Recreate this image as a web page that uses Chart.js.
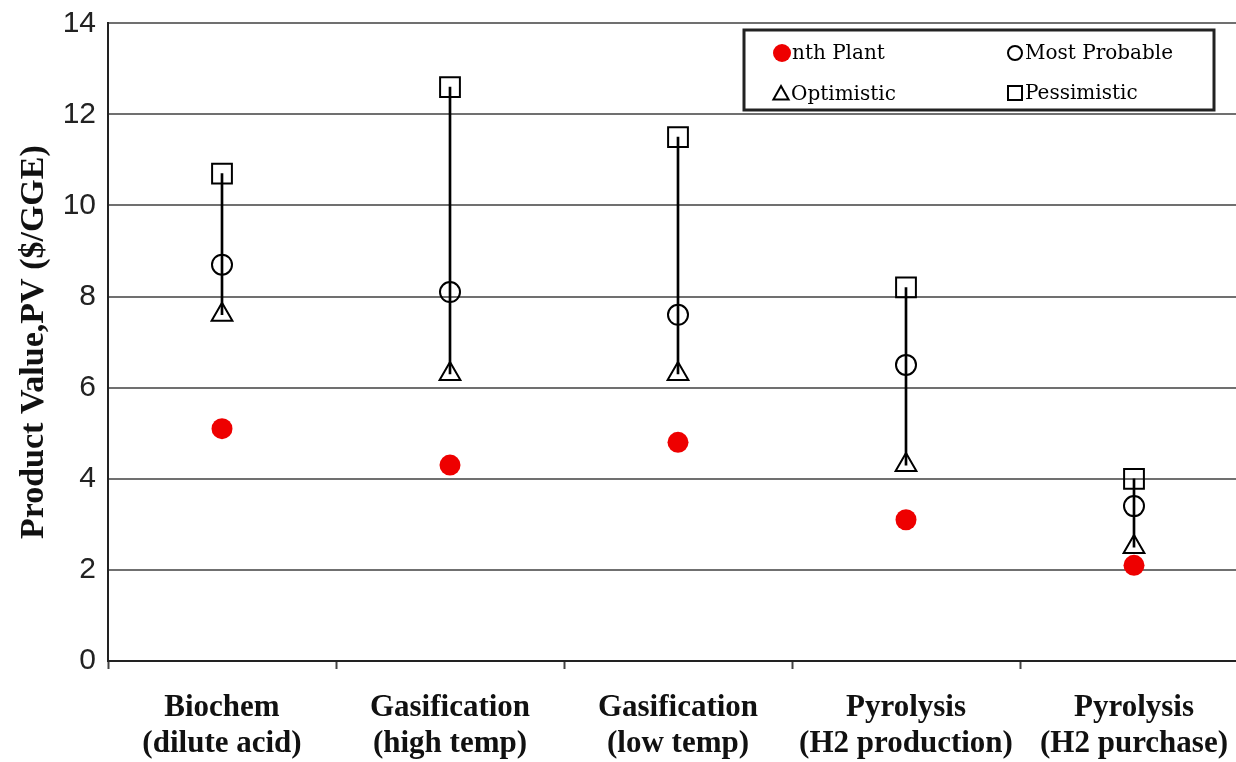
<!DOCTYPE html>
<html>
<head>
<meta charset="utf-8">
<script src="https://cdn.jsdelivr.net/npm/chart.js@4/dist/chart.umd.min.js"></script>
<style>
  html, body { margin: 0; padding: 0; background: #fff; overflow: hidden; }
  #wrap { width: 1264px; height: 762px; position: relative; }
  canvas { display: block; }
</style>
</head>
<body>
<div id="wrap"><canvas id="pvChart"></canvas></div>
<script>
const categories = [
  ['Biochem', '(dilute acid)'],
  ['Gasification', '(high temp)'],
  ['Gasification', '(low temp)'],
  ['Pyrolysis', '(H2 production)'],
  ['Pyrolysis', '(H2 purchase)']
];
const nthPlant     = [5.1, 4.3, 4.8, 3.1, 2.1];
const mostProbable = [8.7, 8.1, 7.6, 6.5, 3.4];
const optimistic   = [7.6, 6.3, 6.3, 4.3, 2.5];
const pessimistic  = [10.7, 12.6, 11.5, 8.2, 4.0];
const yTicks = [0, 2, 4, 6, 8, 10, 12, 14];

const serif = '"Liberation Serif", "Times New Roman", serif';
const sans = '"Liberation Sans", Arial, sans-serif';

// range line from optimistic to pessimistic
const ranges = optimistic.map((v, i) => [v, pessimistic[i]]);

function marker(ctx, style, x, y, r, fill) {
  ctx.beginPath();
  if (style === 'circle') {
    ctx.arc(x, y, r, 0, Math.PI * 2);
  } else if (style === 'triangle') {
    ctx.moveTo(x, y - r);
    ctx.lineTo(x + r * 0.95, y + r * 0.7);
    ctx.lineTo(x - r * 0.95, y + r * 0.7);
    ctx.closePath();
  } else {
    ctx.rect(x - r, y - r, 2 * r, 2 * r);
  }
  if (fill) { ctx.fillStyle = fill; ctx.fill(); }
  else { ctx.strokeStyle = '#000'; ctx.lineWidth = 2; ctx.stroke(); }
}

const boxLegend = {
  id: 'boxLegend',
  afterDraw(chart) {
    const ctx = chart.ctx;
    ctx.save();
    ctx.fillStyle = '#fff';
    ctx.fillRect(744, 30, 470, 80);
    ctx.strokeStyle = '#222';
    ctx.lineWidth = 3;
    ctx.strokeRect(744, 30, 470, 80);
    ctx.font = '20px "DejaVu Serif", serif';
    ctx.textBaseline = 'middle';
    const items = [
      { label: 'nth Plant', style: 'circle', fill: '#ee0000', x: 782, y: 53, r: 9 },
      { label: 'Most Probable', style: 'circle', x: 1015, y: 53, r: 7 },
      { label: 'Optimistic', style: 'triangle', x: 781, y: 94, r: 8 },
      { label: 'Pessimistic', style: 'rect', x: 1015, y: 93, r: 7 }
    ];
    items.forEach(it => {
      marker(ctx, it.style, it.x, it.y, it.r, it.fill);
      ctx.fillStyle = '#000';
      ctx.fillText(it.label, it.x + 10, it.y + 1);
    });
    ctx.restore();
  }
};

new Chart(document.getElementById('pvChart'), {
  data: {
    labels: categories,
    datasets: [
      {
        type: 'bar',
        label: 'range',
        data: ranges,
        backgroundColor: '#000',
        borderWidth: 0,
        barThickness: 2,
        order: 5
      },
      {
        type: 'line', label: 'nth Plant', data: nthPlant, showLine: false,
        pointStyle: 'circle', pointRadius: 10.5, pointBackgroundColor: '#ee0000',
        pointBorderColor: '#ee0000', pointBorderWidth: 0, order: 1
      },
      {
        type: 'line', label: 'Most Probable', data: mostProbable, showLine: false,
        pointStyle: 'circle', pointRadius: 10, pointBackgroundColor: 'rgba(0,0,0,0)',
        pointBorderColor: '#000', pointBorderWidth: 2, order: 1
      },
      {
        type: 'line', label: 'Optimistic', data: optimistic, showLine: false,
        pointStyle: 'triangle', pointRadius: 12, pointBackgroundColor: 'rgba(0,0,0,0)',
        pointBorderColor: '#000', pointBorderWidth: 2, order: 1
      },
      {
        type: 'line', label: 'Pessimistic', data: pessimistic, showLine: false,
        pointStyle: 'rect', pointRadius: 14, pointBackgroundColor: 'rgba(0,0,0,0)',
        pointBorderColor: '#000', pointBorderWidth: 2, order: 1
      }
    ]
  },
  options: {
    responsive: true,
    maintainAspectRatio: false,
    animation: false,
    layout: { padding: { top: 0, right: 0, left: 0, bottom: 0 } },
    plugins: {
      legend: { display: false },
      tooltip: { enabled: false }
    },
    scales: {
      x: {
        offset: true,
        grid: {
          offset: true,
          drawOnChartArea: false,
          tickLength: 8,
          tickColor: '#444',
          tickWidth: 2
        },
        border: { color: '#222', width: 2 },
        ticks: {
          color: '#111',
          padding: 21,
          maxRotation: 0,
          autoSkip: false,
          font: { family: serif, size: 31, weight: 'bold', lineHeight: 1.16 }
        },
        afterFit(scale) { scale.height = 101; }
      },
      y: {
        min: 0,
        max: 14,
        afterBuildTicks(scale) { scale.ticks = yTicks.map(v => ({ value: v })); },
        grid: { color: '#707070', lineWidth: 2, drawTicks: false },
        border: { color: '#222', width: 2 },
        ticks: {
          color: '#222',
          padding: 12,
          font: { family: sans, size: 30, lineHeight: 0.75 }
        },
        title: {
          display: true,
          text: 'Product Value,PV ($/GGE)',
          color: '#111',
          padding: { top: 14, bottom: 0 },
          font: { family: serif, size: 34, weight: 'bold' }
        },
        afterFit(scale) { scale.width = 108; }
      }
    }
  },
  plugins: [boxLegend]
});
</script>
</body>
</html>
